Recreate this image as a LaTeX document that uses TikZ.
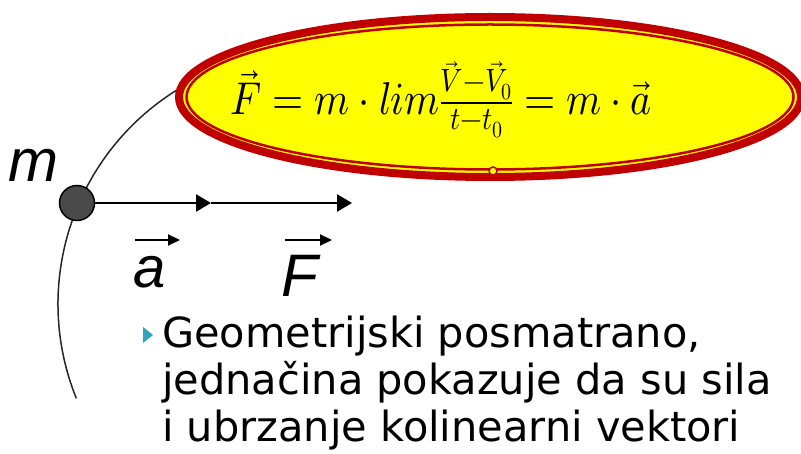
\documentclass[tikz,border=0pt]{standalone}
\usepackage{graphicx}
\usepackage{fontspec}
\usepackage{unicode-math}
\setmainfont{DejaVu Sans}
\setmathfont{Latin Modern Math}
\newfontfamily\arialfont{Liberation Sans}
\newfontfamily\bodyfont{DejaVu Sans}
\usetikzlibrary{arrows.meta,shapes.geometric}

\definecolor{ovalred}{RGB}{192,0,0}
\definecolor{ovalyellow}{RGB}{255,255,0}
\definecolor{bulletteal}{RGB}{49,162,191}
\definecolor{massgray}{RGB}{74,74,74}

\begin{document}
\begin{tikzpicture}[
  x=1pt, y=-1pt,
  oval/.style={ellipse, draw=ovalred, inner sep=0pt},
  mass/.style={circle, draw=black, line width=1.5pt, fill=massgray,
    minimum size=35pt, inner sep=0pt},
  orbit/.style={line width=1.5pt, black!85},
  vec/.style={line width=2.5pt, -{Triangle[length=15pt,width=17pt]}},
  overarrow/.style={line width=2pt, -{Triangle[length=12pt,width=11pt]}},
  lbl/.style={font=\arialfont\itshape\fontsize{60}{60}\selectfont,
    inner sep=0pt, anchor=base west},
  bodytext/.style={font=\bodyfont\fontsize{41.5}{47}\selectfont, align=left,
    inner sep=0pt, anchor=base west}
]
  \useasboundingbox (0,0) rectangle (801,454);

  % trajectory and the mass point
  \draw[orbit] (310,304) ++(238:252) arc[start angle=238, end angle=158, radius=252];
  \node[mass] (mass) at (77,203) {};
  \coordinate (atip) at (211,203);
  \coordinate (ftip) at (352,203);
  \draw[vec] (mass) -- (atip);
  \draw[vec] (atip) -- (ftip);

  \node[lbl] (mlab) at (8,182) {m};
  \node[lbl, font=\arialfont\itshape\fontsize{58}{58}\selectfont] (alab) at (133,288) {a};
  \node[lbl] (flab) at (281,297) {F};
  \draw[overarrow] (135,240) -- (180,240);
  \draw[overarrow] (285,240) -- (332,240);

  % formula in the oval
  \node[oval, line width=8pt, fill=ovalyellow, minimum width=622pt,
    minimum height=160pt] (frame) at (490,97) {};
  \node[oval, line width=2.5pt, minimum width=607pt,
    minimum height=145pt] (inner) at (frame.center) {};
  \node[circle, draw=ovalred, fill=ovalyellow, line width=1.5pt,
    minimum size=8pt, inner sep=0pt] (grip) at (493,171) {};
  \node[inner sep=0pt, font=\fontsize{46}{46}\selectfont] (law) at (441,100)
    {\scalebox{0.87}[1]{$\vec{F}=m\cdot lim\frac{\vec{V}-\vec{V}_0}{t-t_0}=m\cdot\vec{a}$}};

  % bullet text
  \fill[bulletteal] (143,327) -- (143,343) -- (153,335) -- cycle;
  \node[bodytext] (note) at (162,441)
    {Geometrijski posmatrano,\\jednačina pokazuje da su sila\\i ubrzanje kolinearni vektori};
\end{tikzpicture}
\end{document}
